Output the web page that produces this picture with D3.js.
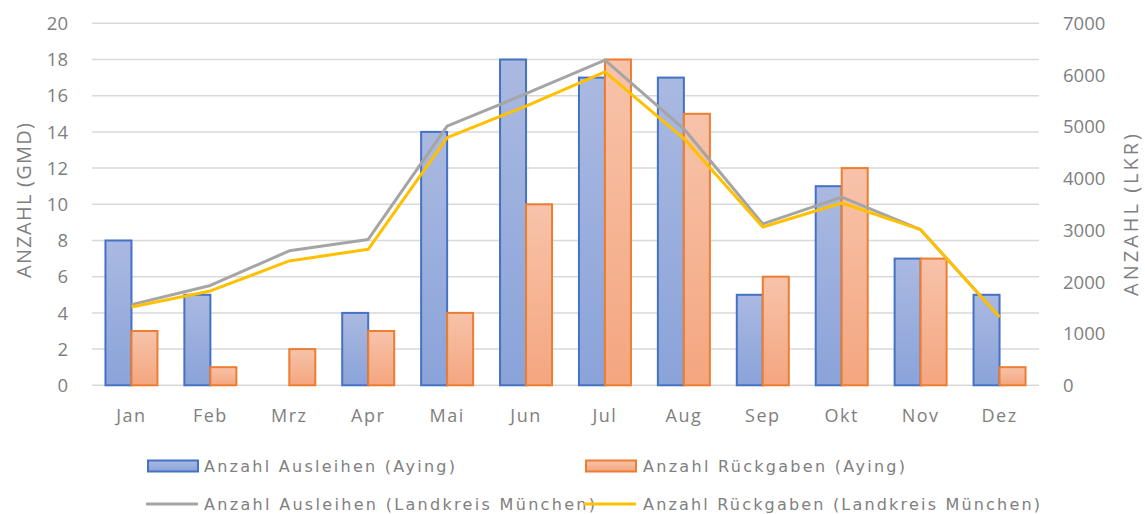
<!DOCTYPE html>
<html><head><meta charset="utf-8">
<script src="https://cdn.jsdelivr.net/npm/d3@7"></script>
<style>body{margin:0;background:#fff}svg{display:block}text{font-family:"Open Sans","Liberation Sans",sans-serif}</style>
</head><body><svg id="c" width="1145" height="514"></svg>
<script>
const months = ["Jan","Feb","Mrz","Apr","Mai","Jun","Jul","Aug","Sep","Okt","Nov","Dez"];
const ausleihenAying = [8,5,0,4,14,18,17,17,5,11,7,5];
const rueckgabenAying = [3,1,2,3,4,10,18,15,6,12,7,1];
const ausleihenLKR = [1560,1930,2600,2820,5010,5640,6290,4960,3120,3640,3010,1320];
const rueckgabenLKR = [1515,1825,2405,2630,4790,5400,6060,4770,3060,3525,3010,1320];
const leftTicks = [0,2,4,6,8,10,12,14,16,18,20];
const rightTicks = [0,1000,2000,3000,4000,5000,6000,7000];
const seriesNames = ["Anzahl Ausleihen (Aying)","Anzahl Rückgaben (Aying)","Anzahl Ausleihen (Landkreis München)","Anzahl Rückgaben (Landkreis München)"];

const svg = d3.select("#c");
const L=92, R=1039, T=23.3, B=385.3;
const x = d3.scaleBand().domain(months).range([L,R]);
const yL = d3.scaleLinear().domain([0,20]).range([B,T]);
const yR = d3.scaleLinear().domain([0,7000]).range([B,T]);

const defs = svg.append("defs");
function grad(id,c1,c2){const g=defs.append("linearGradient").attr("id",id).attr("x1",0).attr("y1",0).attr("x2",0).attr("y2",1);
 g.append("stop").attr("offset","0%").attr("stop-color",c1);g.append("stop").attr("offset","100%").attr("stop-color",c2);}
grad("gb","#aab9e1","#8aa3d9");
grad("go","#f7c3aa","#f4a67f");

// grid
svg.append("g").selectAll("line").data(leftTicks).join("line")
 .attr("x1",L).attr("x2",R).attr("y1",d=>yL(d)).attr("y2",d=>yL(d))
 .attr("stroke","#d9d9d9").attr("stroke-width",1.5);

// axis labels
svg.append("g").selectAll("text").data(leftTicks).join("text")
 .attr("x",68).attr("y",d=>yL(d)).attr("dy","0.36em").attr("text-anchor","end")
 .attr("font-size",18.5).attr("fill","#7f7f7f").text(d=>d);
svg.append("g").selectAll("text").data(rightTicks).join("text")
 .attr("x",1063).attr("y",d=>yR(d)).attr("dy","0.36em").attr("text-anchor","start")
 .attr("font-size",18.5).attr("fill","#7f7f7f").text(d=>d);
svg.append("text").attr("transform","translate(24,200.5) rotate(-90)").attr("dy","0.36em")
 .attr("text-anchor","middle").attr("font-size",20).attr("fill","#7f7f7f")
 .attr("textLength",155).attr("lengthAdjust","spacing").text("ANZAHL (GMD)");
svg.append("text").attr("transform","translate(1131,215) rotate(-90)").attr("dy","0.36em")
 .attr("text-anchor","middle").attr("font-size",20).attr("fill","#7f7f7f")
 .attr("textLength",162).attr("lengthAdjust","spacing").text("ANZAHL (LKR)");
svg.append("g").selectAll("text").data(months).join("text")
 .attr("x",d=>x(d)+x.bandwidth()/2).attr("y",422).attr("text-anchor","middle")
 .attr("font-size",18).attr("letter-spacing","1.5px").attr("fill","#7f7f7f").text(d=>d);

// bars
const bw = 26;
const gb = svg.append("g");
months.forEach((m,i)=>{
  const cx = x(m)+x.bandwidth()/2;
  if(ausleihenAying[i]>0) gb.append("rect").attr("x",cx-bw).attr("y",yL(ausleihenAying[i])).attr("width",bw).attr("height",B-yL(ausleihenAying[i]))
    .attr("fill","url(#gb)").attr("stroke","#4472c4").attr("stroke-width",2);
  if(rueckgabenAying[i]>0) gb.append("rect").attr("x",cx).attr("y",yL(rueckgabenAying[i])).attr("width",bw).attr("height",B-yL(rueckgabenAying[i]))
    .attr("fill","url(#go)").attr("stroke","#ed7d31").attr("stroke-width",2);
});

const line = d3.line().x((d,i)=>x(months[i])+x.bandwidth()/2).y(d=>yR(d));
svg.append("path").datum(ausleihenLKR).attr("d",line).attr("fill","none").attr("stroke","#a5a5a5").attr("stroke-width",3).attr("stroke-linejoin","round");
svg.append("path").datum(rueckgabenLKR).attr("d",line).attr("fill","none").attr("stroke","#ffc000").attr("stroke-width",3).attr("stroke-linejoin","round");

// legend
const lg = svg.append("g").attr("font-size",16).attr("fill","#808080");
const leg = [
 {x:148,y:466,tx:204,w:251,type:"rect",fill:"url(#gb)",stroke:"#4472c4",name:seriesNames[0]},
 {x:586,y:466,tx:643,w:262,type:"rect",fill:"url(#go)",stroke:"#ed7d31",name:seriesNames[1]},
 {x:146,y:504,tx:204,w:391,type:"line",stroke:"#a5a5a5",name:seriesNames[2]},
 {x:584,y:504,tx:643,w:397,type:"line",stroke:"#ffc000",name:seriesNames[3]}
];
leg.forEach(d=>{
  if(d.type==="rect") lg.append("rect").attr("x",d.x).attr("y",d.y-5.5).attr("width",50).attr("height",11).attr("fill",d.fill).attr("stroke",d.stroke).attr("stroke-width",2);
  else lg.append("line").attr("x1",d.x).attr("x2",d.x+52).attr("y1",d.y).attr("y2",d.y).attr("stroke",d.stroke).attr("stroke-width",3);
  lg.append("text").attr("x",d.tx).attr("y",d.y).attr("dy","0.36em")
    .style("font-family","'DejaVu Sans',Verdana,sans-serif")
    .attr("textLength",d.w).attr("lengthAdjust","spacing").text(d.name);
});
</script></body></html>
